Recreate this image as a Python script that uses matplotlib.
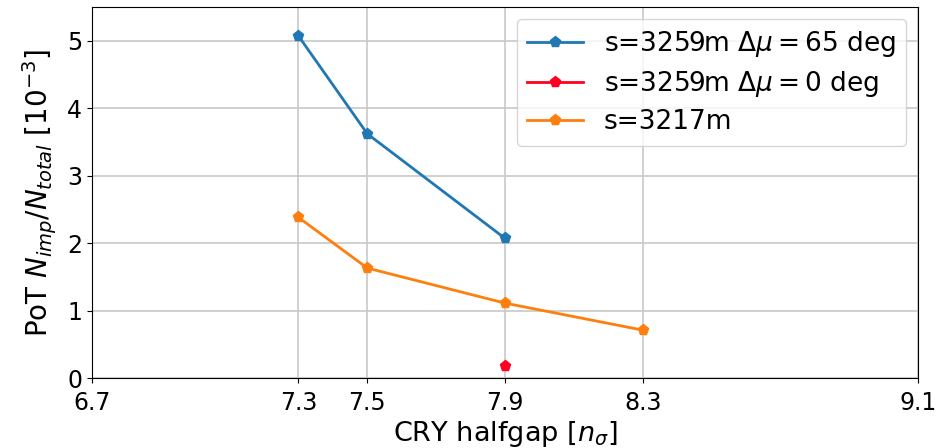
import matplotlib
matplotlib.use("Agg")
import matplotlib.pyplot as plt

# Crystal half-gap settings [n_sigma]
gap_65deg = [7.3, 7.5, 7.9]
pot_65deg = [5.07, 3.62, 2.07]

gap_0deg = [7.9]
pot_0deg = [0.18]

gap_3217 = [7.3, 7.5, 7.9, 8.3]
pot_3217 = [2.38, 1.63, 1.11, 0.71]

xticks = [6.7, 7.3, 7.5, 7.9, 8.3, 9.1]
yticks = [0, 1, 2, 3, 4, 5]

fig = plt.figure(figsize=(9.52, 4.48), dpi=100)
ax = fig.add_axes([92 / 952, 1 - 378 / 448, (918 - 92) / 952, (378 - 7) / 448])

ax.plot(gap_65deg, pot_65deg, marker="p", color="#1f77b4", lw=2, ms=8,
        label=r"s=3259m $\Delta\mu = 65$ deg")
ax.plot(gap_0deg, pot_0deg, marker="p", color="#ff0022", lw=2, ms=8,
        label=r"s=3259m $\Delta\mu = 0$ deg")
ax.plot(gap_3217, pot_3217, marker="p", color="#ff7f0e", lw=2, ms=8,
        label="s=3217m")

ax.set_xlim(6.7, 9.1)
ax.set_ylim(0, 5.5)
ax.set_xticks(xticks)
ax.set_xticklabels([f"{v:.1f}" for v in xticks], fontsize=17)
ax.tick_params(axis="x", pad=6)
ax.set_yticks(yticks)
ax.tick_params(axis="y", labelsize=17)
ax.grid(True, color="#c8c8c8", lw=1.2)
ax.set_axisbelow(True)

ax.set_xlabel(r"CRY halfgap [$n_\sigma$]", fontsize=19.5, labelpad=3)
ax.set_ylabel(r"PoT $N_{imp}/N_{total}$ [$10^{-3}$]", fontsize=20, labelpad=6)

ax.legend(loc="upper right", fontsize=19, handlelength=2.1,
          borderaxespad=0.45, labelspacing=0.38)

fig.savefig("out.png", dpi=100)
